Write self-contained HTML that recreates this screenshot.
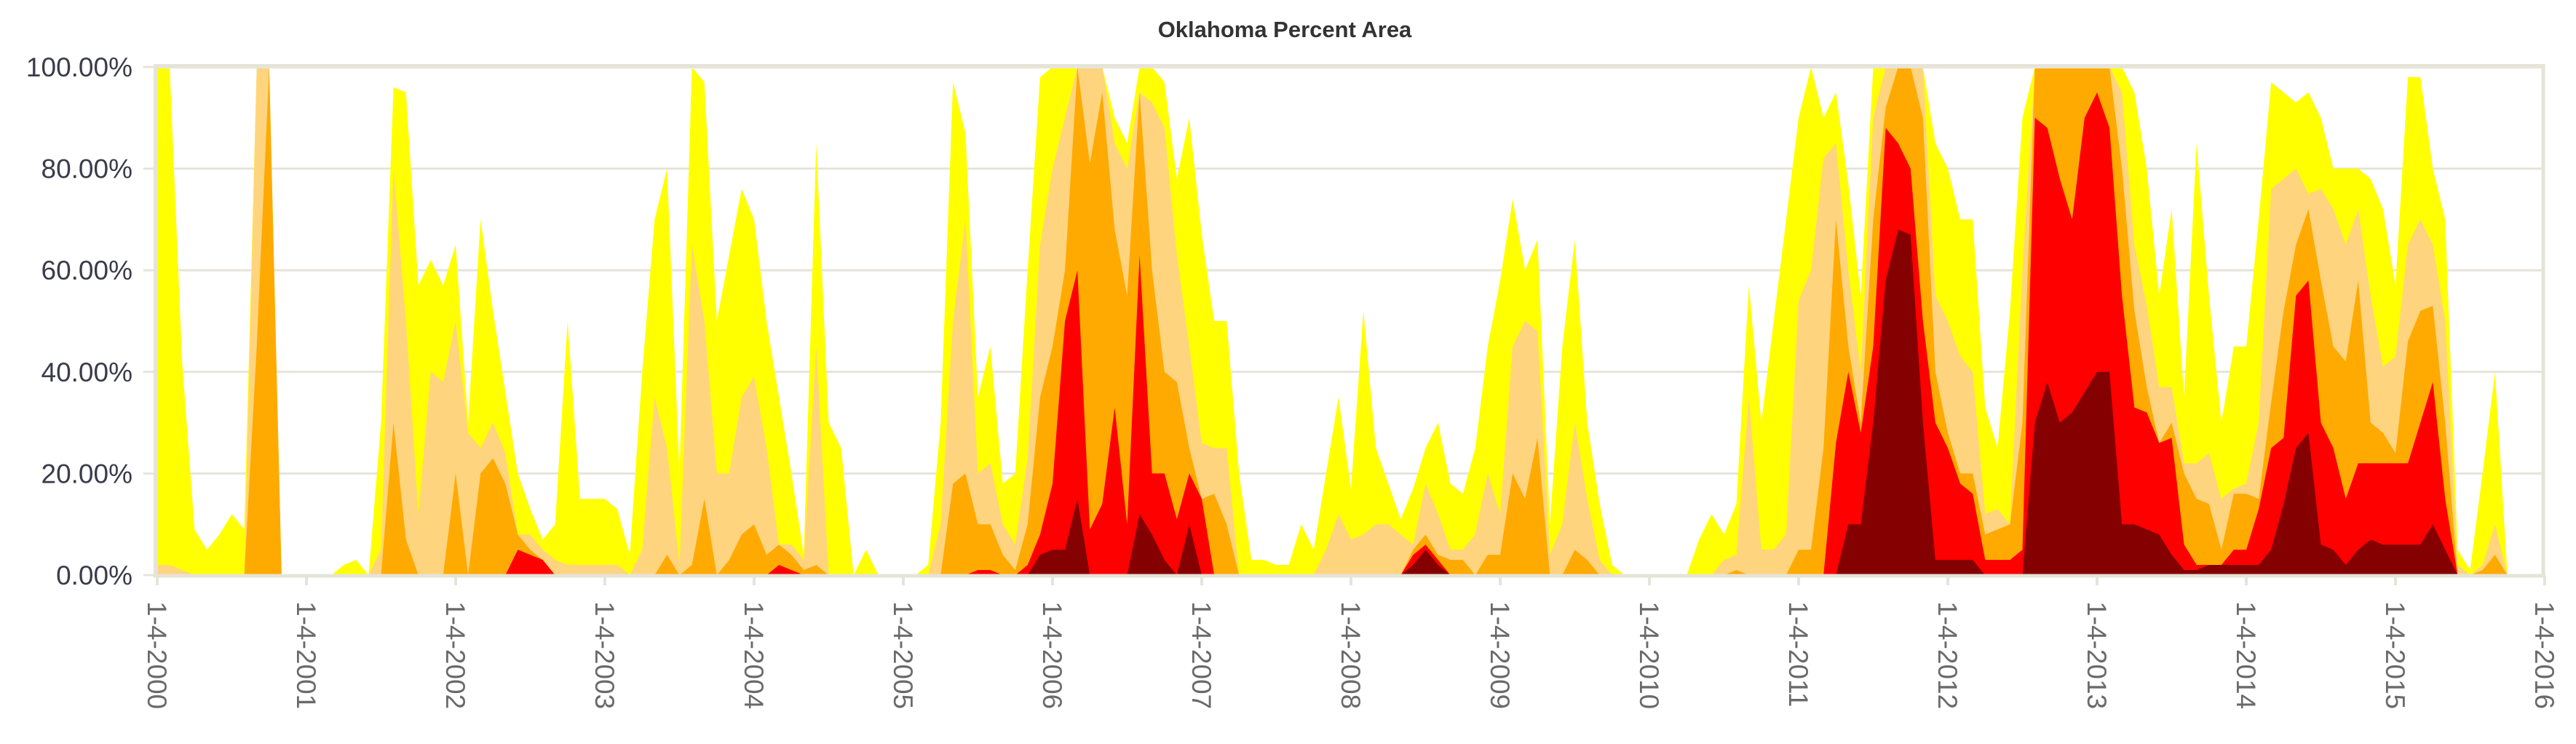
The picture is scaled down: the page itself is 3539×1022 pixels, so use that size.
<!DOCTYPE html>
<html>
<head>
<meta charset="utf-8">
<style>
html,body{margin:0;padding:0;background:#fff;}
svg{display:block;font-family:"Liberation Sans",Arial,sans-serif;}
</style>
</head>
<body>
<svg id="chart" width="3539" height="1022" viewBox="0 0 3539 1022">
  <text x="1765" y="51" text-anchor="middle" font-size="31" font-weight="bold" fill="#333">Oklahoma Percent Area</text>
  <g id="grid"></g>
  <g id="areas"></g>
  <g id="axes"></g>
</svg>
<script>
// Monthly samples starting 1-4-2000 (index i => 2000 + i/12), cumulative percent area
const yLabels = ["0.00%","20.00%","40.00%","60.00%","80.00%","100.00%"];
const yTicks = [0,20,40,60,80,100];
const xLabels = ["1-4-2000","1-4-2001","1-4-2002","1-4-2003","1-4-2004","1-4-2005","1-4-2006","1-4-2007","1-4-2008","1-4-2009","1-4-2010","1-4-2011","1-4-2012","1-4-2013","1-4-2014","1-4-2015","1-4-2016"];
const d0 = [100,100,42,9,5,8,12,9,100,100,
0,0,0,0,0,2,3,0,30,96,
95,57,62,57,65,30,70,52,36,20,
13,7,10,50,15,15,15,13,4,40,
70,80,20,100,97,50,63,76,70,50,
35,20,4,85,30,25,0,5,0,0,
0,0,2,30,97,87,35,45,18,20,
60,98,100,100,100,100,100,90,85,100,
100,97,78,90,67,50,50,20,3,3,
2,2,10,5,20,35,17,52,25,18,
11,17,25,30,18,16,25,45,58,74,
60,66,10,45,66,30,14,2,0,0,
0,0,0,0,7,12,8,14,57,30,
50,70,90,100,90,95,77,55,100,100,
100,100,100,85,80,70,70,33,25,52,
90,100,100,100,100,100,100,100,100,95,
80,55,72,35,85,55,30,45,45,70,
97,95,93,95,90,80,80,80,78,72,
57,98,98,80,70,5,1,20,40,0];
const d1 = [2,2,1,0,0,0,0,0,100,100,
0,0,0,0,0,0,0,0,5,80,
50,12,40,38,50,28,25,30,24,8,
8,5,3,2,2,2,2,2,0,5,
35,25,2,65,50,20,20,35,39,25,
6,6,3,45,0,0,0,0,0,0,
0,0,0,10,50,70,20,22,10,6,
23,65,80,90,100,100,100,85,80,95,
93,88,63,45,26,25,25,0,0,0,
0,0,0,0,5,12,7,8,10,10,
8,6,18,12,5,5,8,20,12,45,
50,48,4,10,30,15,3,0,0,0,
0,0,0,0,0,0,3,4,35,5,
5,8,54,60,82,85,60,40,90,100,
100,100,100,55,50,43,40,12,13,10,
60,100,100,100,100,100,100,100,95,65,
53,37,37,22,22,24,15,17,18,30,
76,78,80,75,76,72,65,72,55,41,
43,65,70,65,50,2,0,2,10,0];
const d2 = [0,0,0,0,0,0,0,0,45,100,
0,0,0,0,0,0,0,0,0,30,
7,0,0,0,20,0,20,23,18,8,
5,3,0,0,0,0,0,0,0,0,
0,4,0,2,15,0,3,8,10,4,
6,4,1,2,0,0,0,0,0,0,
0,0,0,0,18,20,10,10,4,1,
10,35,45,60,100,81,95,68,55,95,
60,40,38,25,15,16,10,0,0,0,
0,0,0,0,0,0,0,0,0,0,
0,5,8,4,3,3,0,4,4,20,
15,27,0,0,5,3,0,0,0,0,
0,0,0,0,0,0,0,1,0,0,
0,0,5,5,25,70,45,30,70,92,
100,100,90,40,28,20,20,8,9,10,
30,100,100,100,100,100,100,100,80,52,
37,26,30,20,15,14,5,16,16,15,
34,52,65,72,58,45,42,58,30,28,
24,46,52,53,30,0,0,1,4,0];
const d3 = [0,0,0,0,0,0,0,0,0,0,
0,0,0,0,0,0,0,0,0,0,
0,0,0,0,0,0,0,0,0,5,
4,3,0,0,0,0,0,0,0,0,
0,0,0,0,0,0,0,0,0,0,
2,1,0,0,0,0,0,0,0,0,
0,0,0,0,0,0,1,1,0,0,
2,8,18,50,60,9,14,33,10,63,
20,20,11,20,15,0,0,0,0,0,
0,0,0,0,0,0,0,0,0,0,
0,4,6,3,0,0,0,0,0,0,
0,0,0,0,0,0,0,0,0,0,
0,0,0,0,0,0,0,0,0,0,
0,0,0,0,0,26,40,28,45,88,
85,80,50,30,25,18,16,3,3,3,
5,90,88,78,70,90,95,88,55,33,
32,26,27,6,2,2,2,5,5,13,
25,27,55,58,30,25,15,22,22,22,
22,22,30,38,15,0,0,0,0,0];
const d4 = [0,0,0,0,0,0,0,0,0,0,
0,0,0,0,0,0,0,0,0,0,
0,0,0,0,0,0,0,0,0,0,
0,0,0,0,0,0,0,0,0,0,
0,0,0,0,0,0,0,0,0,0,
0,0,0,0,0,0,0,0,0,0,
0,0,0,0,0,0,0,0,0,0,
0,4,5,5,15,0,0,0,0,12,
8,3,0,10,0,0,0,0,0,0,
0,0,0,0,0,0,0,0,0,0,
0,2,5,2,0,0,0,0,0,0,
0,0,0,0,0,0,0,0,0,0,
0,0,0,0,0,0,0,0,0,0,
0,0,0,0,0,0,10,10,30,58,
68,67,30,3,3,3,3,0,0,0,
0,30,38,30,32,36,40,40,10,10,
9,8,4,1,1,2,2,2,2,2,
5,14,25,28,6,5,2,5,7,6,
6,6,6,10,5,0,0,0,0,0];

const NS = "http://www.w3.org/2000/svg";
const X0 = 216, YEARW = 205, Y0 = 790, YH = 698;
function xScale(t){ return X0 + YEARW * t; }
function yScale(v){ return Y0 - YH * v / 100; }
function mk(tag, attrs){ const e = document.createElementNS(NS, tag); for (const k in attrs) e.setAttribute(k, attrs[k]); return e; }

const grid = document.getElementById('grid');
const areas = document.getElementById('areas');
const axes = document.getElementById('axes');

yTicks.forEach((v, k) => {
  const ln = mk('line', {x1: 197, x2: 3495, y1: yScale(v), y2: yScale(v), stroke: '#e6e4da', 'stroke-width': 3});
  
  
  grid.appendChild(ln);
  const tx = mk('text', {x: 182, y: yScale(v) + 13, 'text-anchor': 'end', 'font-size': 37, fill: '#3b3b4a'});
  tx.textContent = yLabels[k];
  
  
  grid.appendChild(tx);
});

const series = [
  {vals: d0, color: '#ffff00', name: 'area-d0-abnormally-dry'},
  {vals: d1, color: '#ffd47f', name: 'area-d1-moderate'},
  {vals: d2, color: '#ffaa00', name: 'area-d2-severe'},
  {vals: d3, color: '#ff0000', name: 'area-d3-extreme'},
  {vals: d4, color: '#850000', name: 'area-d4-exceptional'}
];
series.forEach(s => {
  const n = s.vals.length;
  let pts = [xScale(0) + ',' + Y0];
  for (let i = 0; i < n; i++) pts.push(xScale(i / 12).toFixed(1) + ',' + yScale(s.vals[i]).toFixed(1));
  pts.push(xScale((n - 1) / 12).toFixed(1) + ',' + Y0);
  const p = mk('polygon', {points: pts.join(' '), fill: s.color});
  
  
  areas.appendChild(p);
});

const frame = [
  {x1: 213, y1: 91, x2: 3495, y2: 91, w: 6, name: 'plot-top-border'},
  {x1: 214, y1: 88, x2: 214, y2: 792, w: 6, name: 'y-axis-line'},
  {x1: 3494, y1: 88, x2: 3494, y2: 792, w: 5, name: 'plot-right-border'},
  {x1: 211, y1: 791, x2: 3497, y2: 791, w: 5, name: 'x-axis-line'}
];
frame.forEach(f => {
  const l = mk('line', {x1: f.x1, y1: f.y1, x2: f.x2, y2: f.y2, stroke: '#e6e4d8', 'stroke-width': f.w});
  
  
  axes.appendChild(l);
});

xLabels.forEach((lab, k) => {
  const x = xScale(k);
  const tk = mk('line', {x1: x, x2: x, y1: 791, y2: 804, stroke: '#e6e4d8', 'stroke-width': 4});
  
  
  axes.appendChild(tk);
  const tx = mk('text', {x: 0, y: 0, 'font-size': 37, fill: '#6a6a6a', transform: 'translate(' + (x - 13) + ',826) rotate(90)'});
  tx.textContent = lab;
  
  
  axes.appendChild(tx);
});
</script>
</body>
</html>
